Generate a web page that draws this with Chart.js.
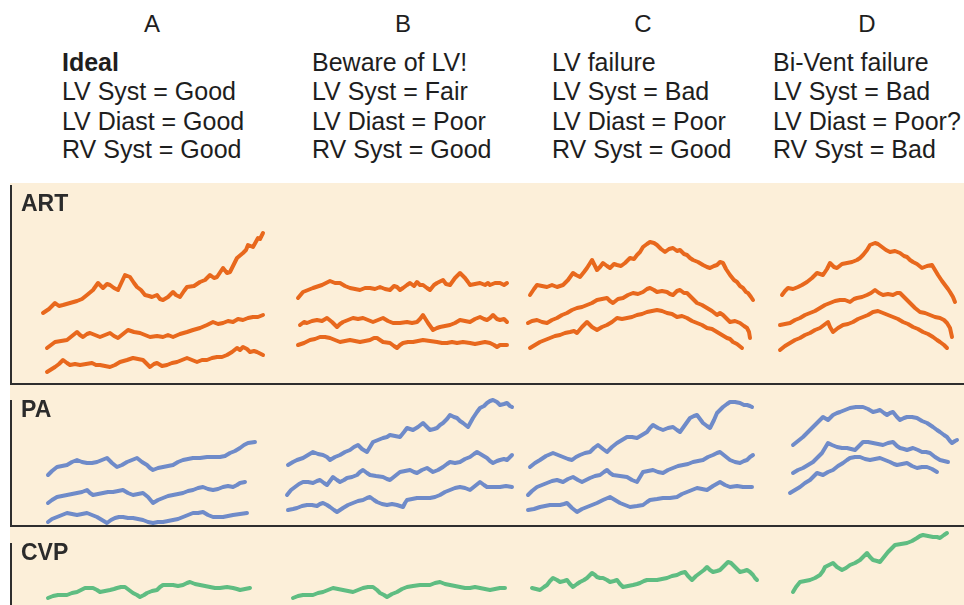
<!DOCTYPE html>
<html>
<head>
<meta charset="utf-8">
<script src="https://cdn.jsdelivr.net/npm/chart.js@4.4.1/dist/chart.umd.min.js"></script>
<style>
  html, body { margin:0; padding:0; background:#ffffff; }
  body { width:964px; height:605px; position:relative; overflow:hidden; font-family:"Liberation Sans", Arial, Helvetica, sans-serif; color:#1e1e1e; }
  .hd { position:absolute; font-size:25px; line-height:1; white-space:nowrap; }
  .letter { position:absolute; width:100px; text-align:center; font-size:24px; line-height:1; }
  .panel { position:absolute; left:10px; width:954px; background:#fcefd9; }
  .panel canvas { position:absolute; left:0; top:0; }
  .lbl { position:absolute; left:11px; font-size:23px; font-weight:bold; line-height:1; color:#2b2b2b; }
  .vline { position:absolute; left:0; width:2px; background:#2e2e2e; }
  .hline { position:absolute; left:0; width:954px; height:2px; background:#2e2e2e; }
</style>
</head>
<body>
<div class="letter" style="left:102px; top:12px;">A</div>
<div class="letter" style="left:353px; top:12px;">B</div>
<div class="letter" style="left:593px; top:12px;">C</div>
<div class="letter" style="left:817px; top:12px;">D</div>

<div class="hd" style="left:62px; top:50px; font-weight:bold;">Ideal</div>
<div class="hd" style="left:62px; top:79px;">LV Syst = Good</div>
<div class="hd" style="left:62px; top:109px;">LV Diast = Good</div>
<div class="hd" style="left:62px; top:137px;">RV Syst = Good</div>

<div class="hd" style="left:312px; top:50px;">Beware of LV!</div>
<div class="hd" style="left:312px; top:79px;">LV Syst = Fair</div>
<div class="hd" style="left:312px; top:109px;">LV Diast = Poor</div>
<div class="hd" style="left:312px; top:137px;">RV Syst = Good</div>

<div class="hd" style="left:552px; top:50px;">LV failure</div>
<div class="hd" style="left:552px; top:79px;">LV Syst = Bad</div>
<div class="hd" style="left:552px; top:109px;">LV Diast = Poor</div>
<div class="hd" style="left:552px; top:137px;">RV Syst = Good</div>

<div class="hd" style="left:773px; top:50px;">Bi-Vent failure</div>
<div class="hd" style="left:773px; top:79px;">LV Syst = Bad</div>
<div class="hd" style="left:773px; top:109px;">LV Diast = Poor?</div>
<div class="hd" style="left:773px; top:137px;">RV Syst = Bad</div>

<div class="panel" style="top:183px; height:202px;">
  <canvas id="cArt" width="954" height="202"></canvas>
  <div class="vline" style="top:2px; height:200px;"></div>
  <div class="hline" style="top:200px;"></div>
  <div class="lbl" style="top:9px;">ART</div>
</div>
<div class="panel" style="top:385px; height:142px;">
  <canvas id="cPa" width="954" height="142"></canvas>
  <div class="vline" style="top:15px; height:127px;"></div>
  <div class="hline" style="top:140px;"></div>
  <div class="lbl" style="top:13px;">PA</div>
</div>
<div class="panel" style="top:527px; height:78px;">
  <canvas id="cCvp" width="954" height="78"></canvas>
  <div class="vline" style="top:16px; height:62px;"></div>
  <div class="lbl" style="top:14px;">CVP</div>
</div>

<script>
// ---- colours ----
const ORANGE = '#e8681d';
const BLUE = '#6f8bc9';
const GREEN = '#5fbd82';

// ---- ART traces: [time, pressure] ----
const artA_top = [[33,72],[39,76],[45,82],[49,79],[53,80],[60,82],[67,84],[72,86],[77,90],[83,95],[88,102],[93,97],[97,101],[100,100],[104,97],[108,95],[115,110],[120,108],[124,102],[127,98],[131,95],[135,90],[139,89],[142,88],[147,90],[150,86],[153,85],[158,88],[163,93],[166,90],[170,88],[174,94],[177,98],[184,99],[190,103],[195,105],[200,110],[204,107],[207,108],[213,117],[217,112],[220,113],[224,121],[227,127],[233,132],[236,135],[238,140],[243,138],[248,147],[250,146],[253,152]];
const artA_mid = [[37,37],[45,43],[51,44],[57,45],[62,49],[67,53],[70,50],[73,48],[77,51],[80,52],[85,50],[90,48],[95,50],[100,52],[104,49],[108,47],[113,51],[118,55],[124,53],[130,52],[135,50],[140,48],[147,49],[153,48],[158,50],[163,48],[170,51],[177,53],[183,55],[190,57],[197,60],[203,63],[208,61],[213,62],[218,64],[223,63],[228,66],[233,65],[238,67],[243,68],[248,68],[253,70]];
const artA_bot = [[37,13],[45,18],[49,21],[53,25],[57,22],[60,20],[65,21],[70,20],[76,21],[82,22],[86,20],[90,20],[95,19],[100,18],[105,20],[110,23],[117,25],[123,27],[128,26],[133,25],[137,21],[140,18],[144,21],[147,22],[152,19],[157,20],[162,22],[167,23],[172,25],[177,27],[182,25],[187,23],[192,25],[197,25],[202,27],[207,28],[212,28],[217,30],[222,33],[227,37],[230,35],[233,38],[237,36],[240,33],[244,34],[247,33],[253,30]];

const artB_top = [[288,87],[293,93],[298,95],[303,97],[312,100],[320,104],[325,102],[330,102],[335,99],[340,97],[345,96],[350,95],[355,97],[360,97],[365,96],[370,98],[375,96],[380,95],[384,99],[387,98],[390,95],[393,97],[397,100],[400,102],[404,99],[407,103],[410,100],[413,100],[417,97],[420,95],[424,100],[427,102],[433,105],[436,101],[440,100],[445,107],[450,112],[455,107],[458,103],[460,100],[465,101],[470,102],[475,100],[478,102],[480,100],[485,102],[490,102],[494,100],[497,102]];
const artB_mid = [[290,60],[294,63],[297,62],[302,64],[307,65],[312,64],[317,67],[322,63],[327,58],[330,61],[333,63],[338,65],[343,67],[348,66],[353,67],[358,65],[363,63],[368,65],[373,67],[378,64],[383,62],[390,62],[397,63],[402,62],[407,63],[410,66],[413,70],[418,62],[423,55],[427,57],[430,58],[435,59],[440,60],[445,62],[450,65],[455,64],[460,63],[465,66],[470,68],[474,66],[477,65],[480,67],[483,70],[487,66],[490,65],[494,66],[497,63]];
const artB_bot = [[288,40],[294,42],[300,45],[305,46],[310,48],[315,48],[320,47],[325,45],[330,43],[335,44],[340,45],[345,44],[350,43],[355,44],[360,45],[364,47],[367,47],[370,45],[373,43],[380,42],[384,39],[387,37],[390,40],[393,42],[398,43],[403,43],[408,44],[413,45],[420,44],[427,43],[432,42],[437,42],[442,43],[447,42],[453,43],[460,42],[465,41],[470,42],[475,43],[480,42],[484,40],[487,38],[490,40],[493,40],[497,40]];

const artC_top = [[520,90],[524,96],[527,100],[532,99],[537,98],[542,100],[547,98],[553,100],[558,105],[563,112],[566,110],[570,108],[574,113],[577,117],[582,125],[585,119],[587,115],[590,118],[593,122],[597,119],[600,117],[604,121],[607,120],[611,119],[615,122],[620,127],[624,126],[627,130],[630,133],[633,138],[637,141],[640,143],[644,142],[647,140],[651,136],[655,133],[659,136],[663,137],[667,134],[670,135],[674,131],[677,130],[680,127],[683,125],[688,123],[693,120],[697,118],[700,117],[704,119],[707,120],[710,123],[713,122],[716,116],[720,110],[724,105],[727,103],[730,99],[733,97],[736,93],[738,92],[741,88],[743,85]];
const artC_mid = [[518,62],[522,64],[527,65],[532,63],[537,62],[542,65],[547,67],[552,70],[557,72],[562,75],[567,77],[572,78],[577,80],[582,82],[587,85],[592,86],[597,87],[600,84],[603,82],[608,86],[613,87],[618,90],[623,92],[628,91],[633,93],[637,96],[640,97],[644,95],[647,93],[652,94],[657,93],[660,91],[663,90],[667,94],[670,95],[674,92],[677,92],[682,87],[687,82],[692,80],[697,77],[702,74],[707,70],[710,72],[713,70],[717,66],[720,63],[725,64],[730,62],[734,59],[737,57],[739,53],[740,47]];
const artC_bot = [[520,37],[525,40],[530,43],[535,45],[540,47],[545,49],[550,50],[555,52],[560,53],[564,54],[567,52],[572,58],[577,63],[582,58],[587,55],[592,58],[597,60],[602,63],[607,67],[612,66],[617,67],[622,68],[627,70],[632,71],[637,73],[642,74],[647,75],[652,74],[657,72],[662,71],[667,68],[672,69],[677,67],[682,64],[687,62],[692,60],[697,57],[702,56],[707,53],[712,50],[717,47],[720,46],[723,43],[727,41],[732,37]];

const artD_top = [[772,90],[775,94],[778,97],[783,96],[788,98],[792,100],[797,103],[802,107],[807,112],[810,111],[813,110],[817,116],[820,122],[824,118],[827,117],[832,121],[837,122],[842,123],[847,125],[850,127],[853,130],[857,135],[860,140],[865,142],[868,141],[872,138],[876,135],[880,133],[885,134],[890,132],[894,129],[897,128],[900,125],[903,123],[907,121],[912,117],[917,119],[922,120],[925,115],[928,110],[932,104],[935,100],[938,96],[940,93],[943,88],[945,83]];
const artD_mid = [[770,60],[775,61],[780,62],[785,65],[790,67],[795,70],[800,72],[805,74],[810,77],[815,80],[820,82],[825,84],[830,85],[835,85],[840,83],[844,86],[847,87],[852,88],[857,90],[861,92],[865,95],[869,92],[873,90],[878,91],[883,90],[887,92],[890,92],[895,87],[900,82],[905,77],[910,73],[915,72],[920,70],[925,68],[930,67],[934,65],[937,62],[940,57],[942,48]];
const artD_bot = [[770,35],[775,39],[780,42],[785,45],[790,47],[795,50],[800,52],[805,55],[810,57],[814,60],[818,63],[820,58],[823,53],[828,57],[833,60],[838,61],[843,63],[848,66],[853,68],[858,70],[863,73],[868,74],[873,72],[878,70],[883,68],[888,66],[893,63],[898,61],[903,58],[908,56],[913,53],[918,51],[923,48],[927,45],[930,43],[934,40],[937,37]];

// ---- PA traces ----
const paA_top = [[38,52],[42,56],[47,60],[52,61],[57,62],[62,65],[67,67],[72,65],[77,64],[82,64],[87,65],[92,67],[97,69],[102,64],[107,60],[112,62],[117,65],[122,67],[127,69],[132,65],[137,62],[140,59],[143,57],[148,59],[153,60],[158,61],[163,62],[168,65],[173,67],[178,68],[183,69],[190,69],[197,70],[203,70],[210,70],[215,71],[220,74],[225,76],[230,79],[234,82],[238,84],[245,85]];
const paA_mid = [[38,24],[42,27],[47,30],[52,31],[57,32],[62,33],[67,34],[72,35],[77,37],[80,34],[83,32],[88,33],[93,34],[98,35],[103,35],[108,36],[113,37],[118,34],[123,32],[128,33],[133,34],[138,30],[143,24],[148,27],[153,29],[158,31],[163,32],[168,33],[173,34],[178,36],[183,37],[188,39],[193,40],[198,38],[203,37],[208,38],[213,40],[218,41],[223,40],[227,42],[230,44],[235,45]];
const paA_bot = [[38,5],[42,8],[47,10],[52,12],[57,14],[62,13],[67,12],[72,13],[77,14],[82,12],[87,10],[92,7],[97,4],[101,7],[105,9],[109,10],[113,10],[118,9],[123,9],[128,8],[133,7],[138,5],[143,4],[148,5],[153,5],[158,6],[163,7],[168,8],[173,10],[178,12],[183,14],[188,14],[193,15],[198,12],[203,10],[208,10],[213,10],[218,11],[223,12],[230,13],[237,14]];

const paB_top = [[278,62],[283,65],[287,67],[293,69],[298,72],[303,75],[308,73],[313,72],[317,70],[320,67],[325,70],[330,72],[335,75],[340,77],[344,80],[348,82],[352,78],[357,75],[360,80],[363,85],[368,87],[373,89],[377,90],[380,92],[385,91],[390,90],[394,95],[397,99],[400,98],[403,97],[408,100],[413,104],[417,100],[420,97],[424,98],[427,99],[430,102],[433,104],[437,108],[440,112],[444,110],[447,109],[450,106],[453,104],[458,100],[463,109],[467,115],[470,119],[474,121],[477,124],[480,126],[483,127],[487,125],[490,122],[494,123],[497,124],[500,121],[502,120]];
const paB_mid = [[277,32],[281,37],[285,40],[289,43],[293,45],[298,45],[303,44],[307,46],[310,47],[314,44],[317,42],[320,46],[323,50],[327,47],[330,45],[334,47],[337,49],[342,50],[347,52],[350,55],[353,57],[357,54],[360,52],[366,51],[373,50],[377,48],[380,47],[385,51],[390,55],[395,56],[400,57],[404,55],[407,54],[412,57],[417,59],[420,57],[423,55],[428,57],[433,60],[437,63],[440,65],[445,64],[450,65],[455,68],[460,70],[464,73],[467,75],[472,72],[477,69],[480,66],[483,64],[487,66],[490,67],[494,68],[497,67],[500,70],[502,72]];
const paB_bot = [[278,17],[283,18],[287,19],[292,21],[297,22],[302,22],[307,21],[310,23],[313,24],[317,22],[320,20],[324,17],[327,15],[330,17],[333,19],[338,22],[343,24],[348,26],[353,27],[357,29],[360,30],[364,27],[367,25],[372,23],[377,22],[382,23],[387,22],[390,21],[393,20],[395,24],[397,27],[402,28],[407,29],[413,29],[420,29],[425,30],[430,32],[435,35],[440,37],[445,39],[450,40],[455,39],[460,37],[465,41],[470,45],[474,42],[477,40],[483,40],[490,40],[496,41],[502,40]];

const paC_top = [[520,60],[525,64],[530,67],[536,71],[543,74],[548,72],[553,70],[558,68],[562,67],[566,70],[570,72],[575,74],[580,75],[584,79],[588,82],[593,78],[597,75],[602,80],[607,84],[612,87],[617,90],[622,90],[627,89],[632,92],[637,95],[640,99],[643,102],[648,99],[653,97],[658,99],[663,100],[667,97],[670,95],[675,102],[680,109],[684,111],[687,112],[690,108],[693,104],[697,101],[700,99],[704,107],[707,114],[710,117],[713,120],[717,123],[720,125],[725,125],[730,124],[734,122],[737,122],[740,121],[742,120]];
const paC_mid = [[518,32],[522,36],[527,40],[532,42],[537,44],[542,46],[547,47],[550,46],[553,45],[558,48],[563,50],[568,47],[572,45],[576,47],[580,49],[585,51],[590,52],[594,55],[597,57],[600,54],[603,52],[610,51],[617,50],[622,47],[627,45],[630,50],[633,55],[638,56],[643,57],[648,55],[653,54],[658,57],[663,59],[668,61],[673,62],[678,63],[683,65],[688,66],[693,67],[698,70],[703,72],[707,74],[710,75],[715,71],[720,67],[725,65],[730,64],[734,66],[737,67],[740,70],[743,72]];
const paC_bot = [[518,17],[524,18],[530,20],[535,21],[540,22],[545,22],[550,22],[554,23],[557,24],[562,19],[567,15],[572,18],[577,20],[582,22],[587,24],[593,27],[600,30],[605,27],[610,24],[615,22],[620,20],[627,21],[633,22],[637,25],[640,27],[647,28],[653,29],[660,29],[667,30],[672,33],[677,35],[682,37],[687,39],[692,38],[697,37],[703,41],[710,45],[715,42],[720,40],[727,41],[733,40],[738,40],[742,40]];

const paD_top = [[783,82],[788,86],[793,90],[798,95],[803,100],[808,105],[813,110],[818,107],[823,112],[827,114],[830,115],[835,117],[840,119],[846,120],[853,120],[858,118],[863,115],[867,116],[870,117],[874,114],[877,112],[880,114],[883,115],[887,110],[890,107],[894,109],[897,110],[902,110],[907,109],[912,106],[917,104],[920,102],[923,100],[927,97],[930,95],[934,92],[937,90],[940,86],[942,84],[945,86],[947,87]];
const paD_mid = [[783,54],[788,57],[793,59],[798,62],[803,65],[808,70],[812,74],[815,79],[818,84],[822,82],[827,80],[832,79],[837,79],[841,78],[845,77],[849,81],[853,85],[858,85],[863,84],[868,83],[873,82],[878,84],[883,85],[887,81],[890,79],[894,78],[897,77],[900,78],[903,79],[908,77],[912,75],[916,75],[920,74],[925,70],[930,67],[934,66],[938,65]];
const paD_bot = [[780,34],[785,37],[790,40],[795,44],[800,47],[804,51],[807,54],[810,53],[813,52],[818,55],[823,57],[828,61],[833,64],[837,67],[840,69],[845,70],[850,70],[855,68],[860,67],[865,68],[870,69],[875,67],[880,65],[884,63],[887,62],[892,63],[897,64],[902,61],[907,59],[912,60],[917,60],[922,58],[927,55]];

// ---- CVP traces ----
const cvpA = [[38,7],[43,9],[48,10],[53,10],[57,10],[62,12],[67,13],[71,15],[75,17],[79,17],[83,17],[87,15],[90,13],[95,14],[100,15],[104,16],[107,17],[111,18],[115,18],[119,15],[123,12],[127,10],[130,8],[134,10],[137,12],[142,14],[147,15],[150,18],[153,20],[158,20],[163,20],[168,19],[173,20],[177,22],[180,23],[185,21],[190,20],[195,19],[200,18],[205,17],[210,17],[217,18],[223,17],[227,16],[230,15],[235,16],[240,17]];
const cvpB = [[283,7],[288,9],[293,10],[298,10],[303,10],[308,12],[313,13],[318,15],[323,17],[328,16],[333,15],[338,14],[343,13],[348,15],[353,17],[358,18],[363,18],[367,15],[370,12],[374,10],[377,8],[382,11],[387,13],[392,16],[397,18],[403,19],[410,20],[415,20],[420,20],[425,22],[430,23],[435,21],[440,20],[445,19],[450,18],[455,17],[460,17],[465,18],[470,17],[475,16],[480,15],[485,16],[490,17],[495,17]];
const cvpC = [[522,17],[526,16],[530,15],[534,18],[537,20],[540,24],[543,27],[547,25],[550,23],[554,24],[557,25],[560,21],[563,18],[567,21],[570,23],[574,25],[577,27],[580,30],[582,32],[585,30],[587,28],[590,27],[593,27],[597,25],[600,23],[604,24],[607,25],[610,21],[613,18],[618,19],[623,20],[627,21],[630,22],[634,24],[637,25],[642,25],[647,25],[652,26],[657,27],[662,29],[667,30],[671,32],[675,33],[678,29],[682,25],[686,29],[690,32],[694,35],[697,38],[700,35],[703,33],[707,34],[710,35],[714,39],[718,43],[721,42],[723,40],[727,36],[730,33],[734,34],[737,35],[740,33],[743,30],[745,27],[747,25]];
const cvpD = [[783,13],[786,18],[790,23],[795,24],[800,25],[805,27],[810,30],[813,34],[815,38],[819,40],[823,42],[827,38],[832,35],[836,37],[840,40],[845,42],[850,45],[854,49],[857,52],[860,48],[863,45],[867,44],[870,43],[874,48],[878,53],[882,57],[885,60],[891,61],[897,62],[902,64],[907,67],[910,69],[913,70],[918,69],[923,68],[927,68],[930,67],[934,70],[937,72]];

function line(points, color) {
  return {
    data: points.map(p => ({ x: p[0], y: p[1] })),
    borderColor: color,
    borderWidth: 4,
    pointRadius: 0,
    tension: 0,
    fill: false,
    clip: false,
    borderJoinStyle: 'round',
    borderCapStyle: 'round'
  };
}

function panel(id, series, color, ymax) {
  new Chart(document.getElementById(id), {
    type: 'line',
    data: { datasets: series.map(s => line(s, color)) },
    options: {
      responsive: false,
      animation: false,
      devicePixelRatio: 1,
      layout: { padding: 0 },
      plugins: { legend: { display: false }, tooltip: { enabled: false } },
      scales: {
        x: { type: 'linear', display: false, min: 0, max: 954 },
        y: { type: 'linear', display: false, min: 0, max: ymax }
      }
    }
  });
}

panel('cArt', [artA_top, artA_mid, artA_bot, artB_top, artB_mid, artB_bot, artC_top, artC_mid, artC_bot, artD_top, artD_mid, artD_bot], ORANGE, 202);
panel('cPa', [paA_top, paA_mid, paA_bot, paB_top, paB_mid, paB_bot, paC_top, paC_mid, paC_bot, paD_top, paD_mid, paD_bot], BLUE, 142);
panel('cCvp', [cvpA, cvpB, cvpC, cvpD], GREEN, 78);
</script>
</body>
</html>
